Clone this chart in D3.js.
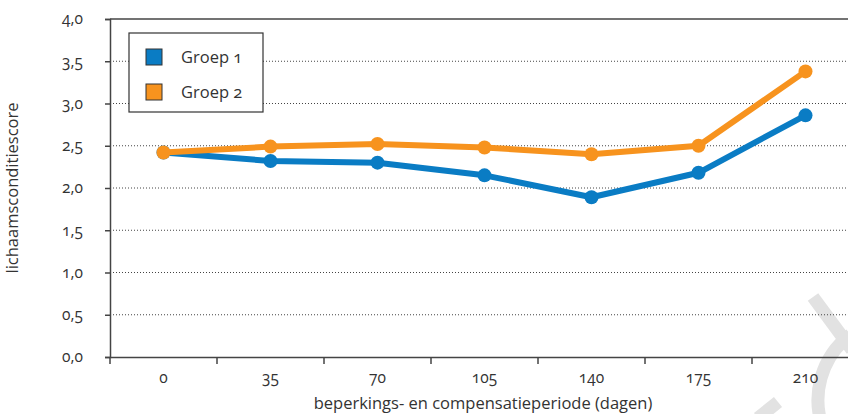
<!DOCTYPE html>
<html>
<head>
<meta charset="utf-8">
<script src="https://cdn.jsdelivr.net/npm/d3@7"></script>
<style>
  body { margin: 0; background: #fff; }
  svg text { font-family: "Open Sans", sans-serif; fill: #333; font-variant-numeric: oldstyle-nums; font-feature-settings: "onum"; }
</style>
</head>
<body>
<div id="chart-area"></div>
<script>
var days = ["0", "35", "70", "105", "140", "175", "210"]
var groep1 = [2.42, 2.32, 2.30, 2.15, 1.89, 2.18, 2.86]
var groep2 = [2.42, 2.49, 2.52, 2.48, 2.40, 2.50, 3.38]
var yTicks = [0, 0.5, 1, 1.5, 2, 2.5, 3, 3.5, 4]
var seriesNames = ["Groep 1", "Groep 2"]
var colors = ["#0a7cc4", "#f7931e"]

var width = 848
var height = 414

var svg = d3.select("#chart-area")
  .append("svg")
  .attr("width", width)
  .attr("height", height)

var x = d3.scaleBand().domain(days).range([110, 859])
var y = d3.scaleLinear().domain([0, 4]).range([357, 19])
var fmt = (d) => d.toFixed(1).replace(".", ",")

// faint watermark in the bottom right corner
var wm = svg.append("g")
  .attr("fill", "none")
  .attr("stroke", "#e2e2e2")
  .attr("stroke-width", 13)
wm.append("path").attr("d", "M813,297 L852,350")
wm.append("path").attr("d", d3.arc()({ innerRadius: 82, outerRadius: 82, startAngle: -0.65, endAngle: -1.95 }))
  .attr("transform", "translate(900,400)")
wm.append("path").attr("d", "M758,418 L778,402")

// gridlines
svg.append("g").selectAll("line")
  .data(yTicks.filter((d) => d > 0 && d < 4))
  .enter().append("line")
  .attr("x1", 110).attr("x2", width)
  .attr("y1", (d) => y(d)).attr("y2", (d) => y(d))
  .attr("stroke", "#444")
  .attr("stroke-width", 1)
  .attr("stroke-dasharray", "1,2")

// top border
svg.append("line")
  .attr("x1", 110).attr("x2", width)
  .attr("y1", y(4)).attr("y2", y(4))
  .attr("stroke", "#444").attr("stroke-width", 1.5)

// y axis
var leftAxis = d3.axisLeft(y).tickValues(yTicks).tickFormat(fmt).tickSize(5).tickPadding(22)
var yAxisGroup = svg.append("g")
  .attr("transform", "translate(110,0)")
  .call(leftAxis)
yAxisGroup.select(".domain").attr("stroke", "#444").attr("stroke-width", 1.5)
yAxisGroup.selectAll(".tick line").attr("stroke", "#444").attr("stroke-width", 1.5)
yAxisGroup.selectAll(".tick text").attr("font-size", "15.5px").attr("fill", "#333")

// x axis
var bottomAxis = d3.axisBottom(x).tickSize(0).tickPadding(15)
var xAxisGroup = svg.append("g")
  .attr("transform", "translate(0," + y(0) + ")")
  .call(bottomAxis)
xAxisGroup.select(".domain").attr("stroke", "#444").attr("stroke-width", 1.5)
xAxisGroup.selectAll(".tick text").attr("font-size", "15.5px").attr("fill", "#333")

// tick marks between categories
xAxisGroup.append("g").selectAll("line")
  .data(days)
  .enter().append("line")
  .attr("x1", (d) => x(d)).attr("x2", (d) => x(d))
  .attr("y1", 0).attr("y2", 7)
  .attr("stroke", "#444").attr("stroke-width", 1.5)

// axis labels
svg.append("text")
  .attr("x", -188).attr("y", 18)
  .attr("transform", "rotate(-90)")
  .attr("text-anchor", "middle")
  .attr("font-size", "16.5px")
  .text("lichaamsconditiescore")

svg.append("text")
  .attr("x", 483).attr("y", 409)
  .attr("text-anchor", "middle")
  .attr("font-size", "16.5px")
  .text("beperkings- en compensatieperiode (dagen)")

// lines
var line = d3.line()
  .x((d, i) => x(days[i]) + x.bandwidth() / 2)
  .y((d) => y(d))

var allSeries = [groep1, groep2]
allSeries.forEach((s, k) => {
  var g = svg.append("g")
  g.append("path")
    .datum(s)
    .attr("d", line)
    .attr("fill", "none")
    .attr("stroke", colors[k])
    .attr("stroke-width", 6)
    .attr("stroke-linejoin", "round")
  g.selectAll("circle")
    .data(s)
    .enter().append("circle")
    .attr("cx", (d, i) => x(days[i]) + x.bandwidth() / 2)
    .attr("cy", (d) => y(d))
    .attr("r", 7)
    .attr("fill", colors[k])
})

// legend
var legend = svg.append("g")
legend.append("rect")
  .attr("x", 129).attr("y", 33)
  .attr("width", 134).attr("height", 79)
  .attr("fill", "#fff")
  .attr("stroke", "#333").attr("stroke-width", 1.2)

seriesNames.forEach((name, i) => {
  legend.append("rect")
    .attr("x", 146).attr("y", 49 + i * 35)
    .attr("width", 16).attr("height", 16)
    .attr("fill", colors[i])
    .attr("stroke", "#333").attr("stroke-width", 1)
  legend.append("text")
    .attr("x", 181).attr("y", 63 + i * 35)
    .attr("font-size", "16.5px")
    .text(name)
})
</script>
</body>
</html>
